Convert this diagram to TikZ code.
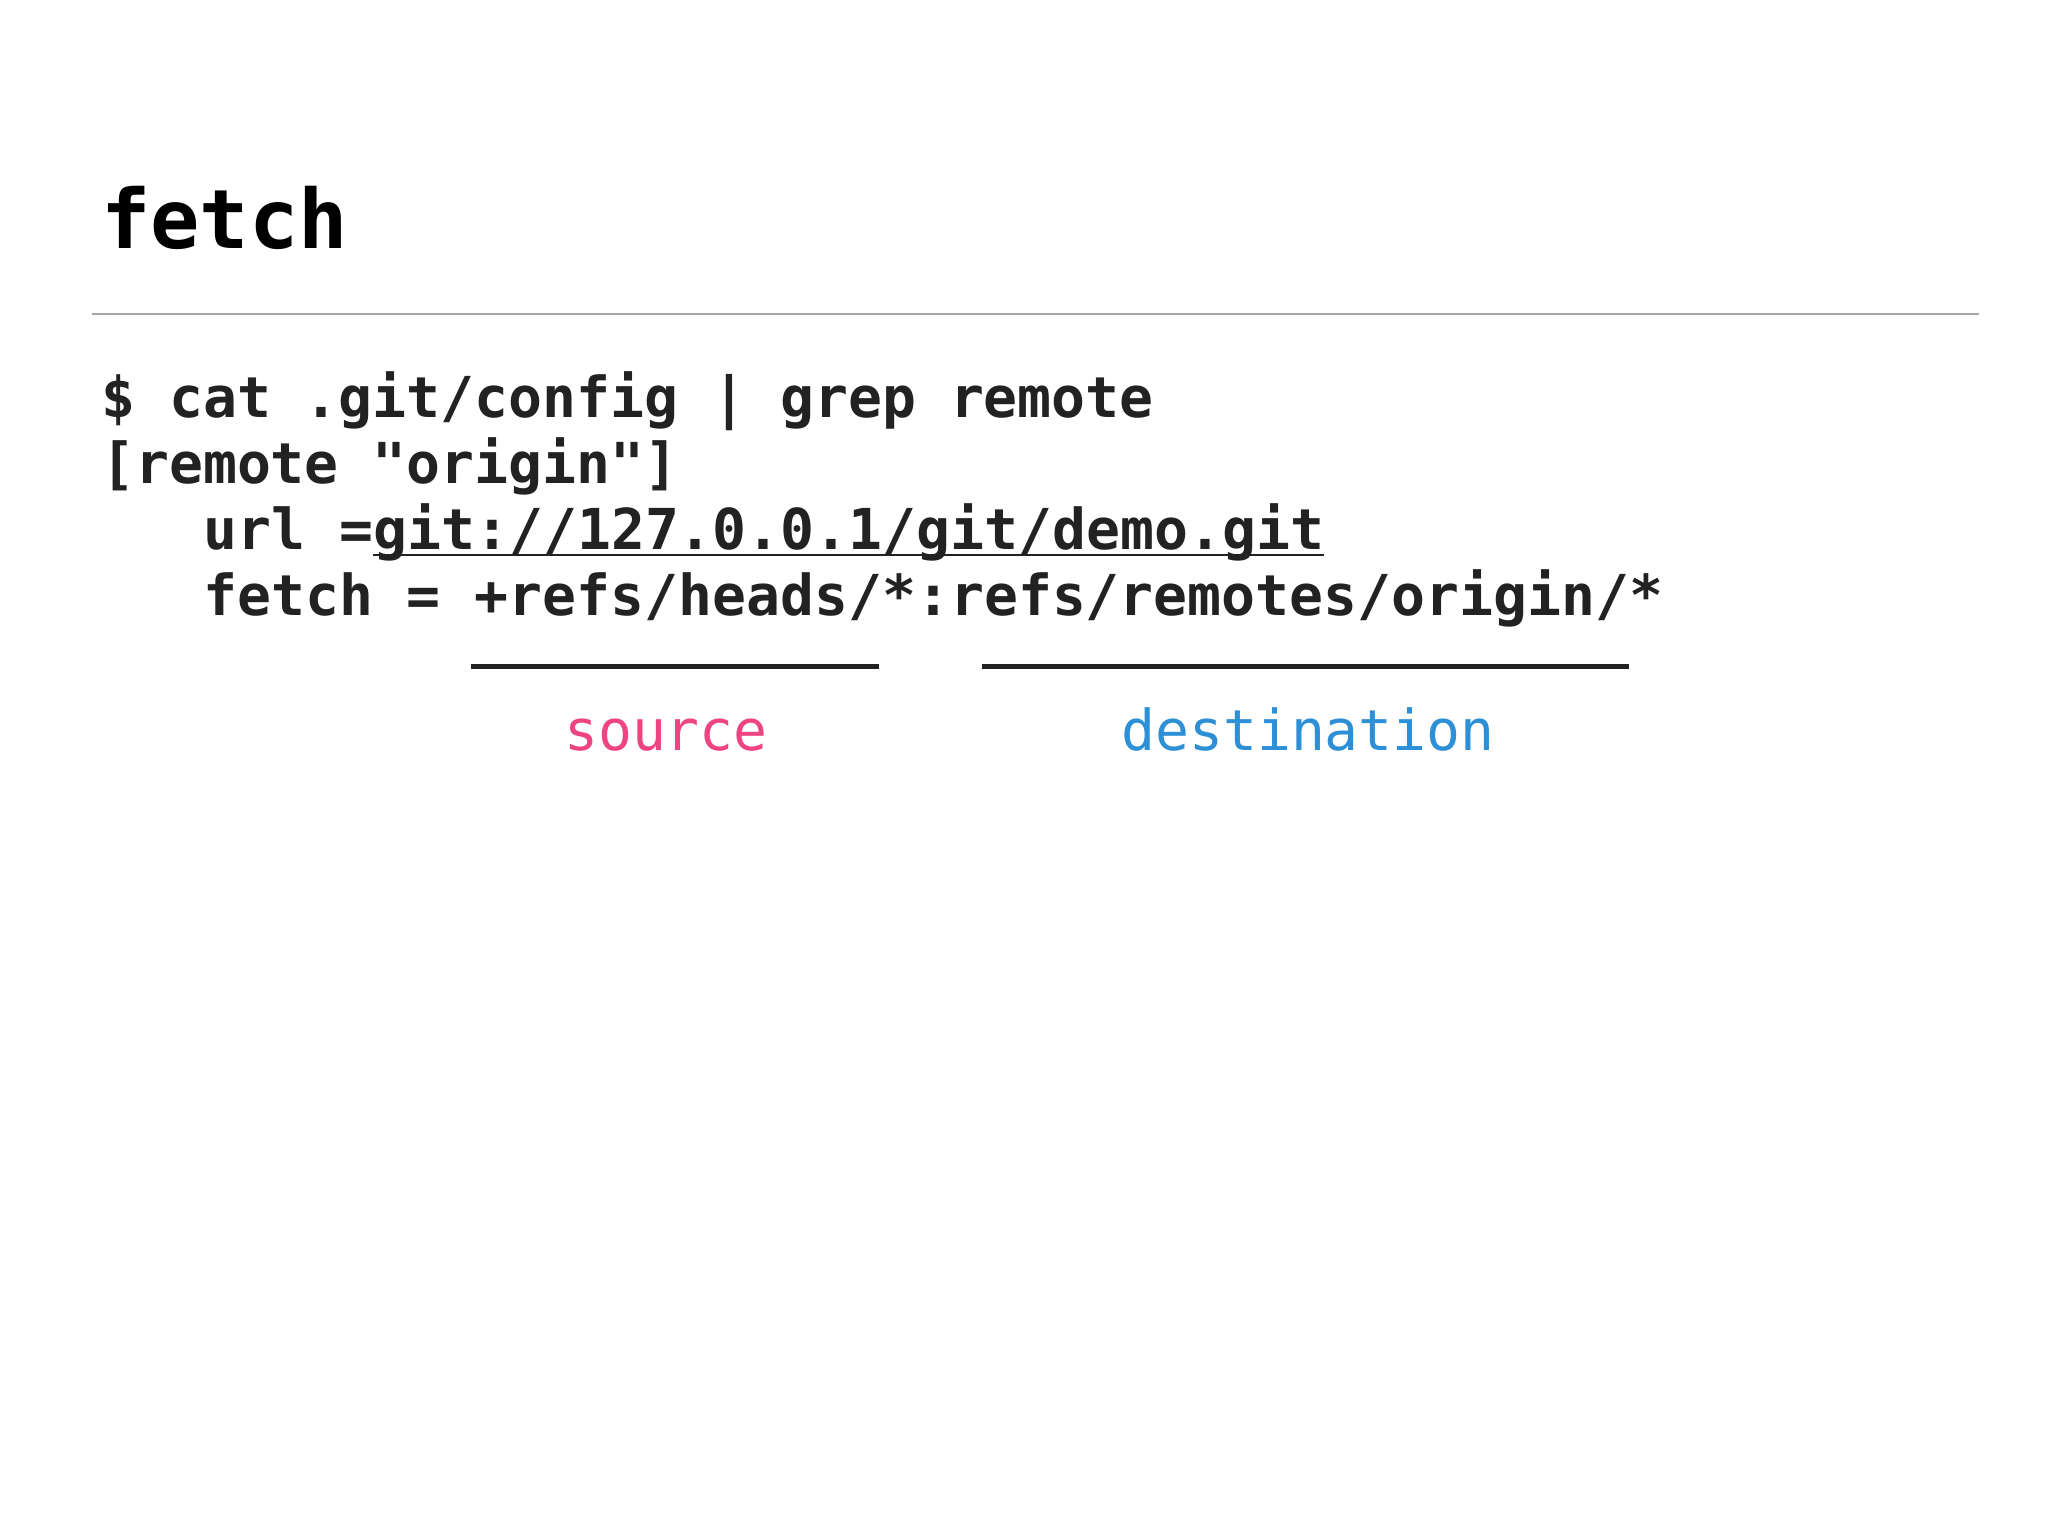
\documentclass[tikz,border=0pt]{standalone}
\usepackage{fontspec}
\setmonofont{DejaVu Sans Mono}
\definecolor{codec}{HTML}{222222}
\definecolor{srcc}{HTML}{EE4481}
\definecolor{dstc}{HTML}{2D8FD5}
\begin{document}
\begin{tikzpicture}[x=1pt,y=-1pt,
  code/.style={anchor=base west,inner sep=0pt,text=codec,font=\ttfamily\bfseries\fontsize{56.4}{66}\selectfont},
  lbl/.style={anchor=base,inner sep=0pt,font=\ttfamily\fontsize{56.4}{66}\selectfont},
  bar/.style={draw=codec,line width=5pt}]
\useasboundingbox[fill=white] (0,0) rectangle (2048,1536);
\node[anchor=base west,inner sep=0pt,font=\ttfamily\bfseries\fontsize{82}{90}\selectfont] (title) at (101,248) {fetch};
\coordinate (r1) at (92,314); \coordinate (r2) at (1979,314);
\draw[draw=gray!70,line width=1.3pt] (r1) -- (r2);
\node[code] (l1) at (101,417) {\$ cat .git/config | grep remote};
\node[code] (l2) at (101,483) {[remote "origin"]};
\node[code] (l3) at (203,549) {url = };
\node[code] (link) at (l3.base east) {git://127.0.0.1/git/demo.git};
\draw[codec,line width=2.2pt] ([yshift=-6pt]link.base west) -- ([yshift=-6pt]link.base east);
\node[code] (l4) at (203,615) {fetch = +refs/heads/*:refs/remotes/origin/*};
\coordinate (s1) at (471,666); \coordinate (s2) at (879,666);
\coordinate (d1) at (982,666); \coordinate (d2) at (1629,666);
\draw[bar] (s1) -- (s2);
\draw[bar] (d1) -- (d2);
\node[lbl,text=srcc] (src) at (666,750) {source};
\node[lbl,text=dstc] (dst) at (1308,750) {destination};
\end{tikzpicture}
\end{document}
